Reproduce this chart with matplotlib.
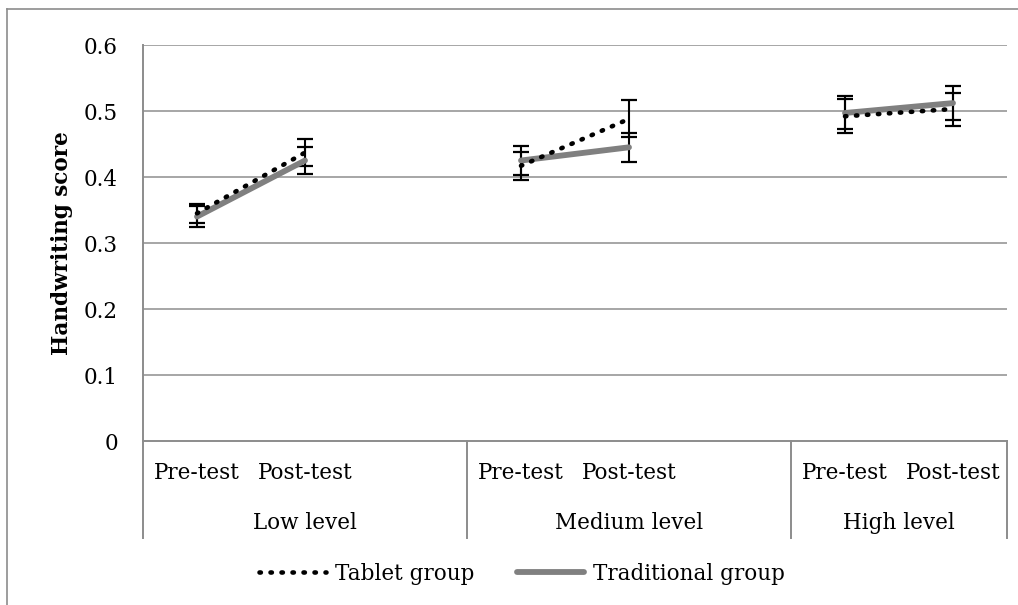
import matplotlib
matplotlib.use("Agg")
import matplotlib.pyplot as plt
import matplotlib.transforms as mtransforms
import numpy as np

# Data
levels = ["Low level", "Medium level", "High level"]
tests = ["Pre-test", "Post-test"]
# category slots: Pre, Post, (blank) for each level; last level has no blank
cat_labels = ["Pre-test", "Post-test", "", "Pre-test", "Post-test", "", "Pre-test", "Post-test"]
tablet = [0.345, 0.437, np.nan, 0.417, 0.488, np.nan, 0.492, 0.503]
tablet_err = [0.014, 0.021, np.nan, 0.021, 0.028, np.nan, 0.026, 0.025]
traditional = [0.340, 0.425, np.nan, 0.425, 0.445, np.nan, 0.497, 0.512]
traditional_err = [0.016, 0.020, np.nan, 0.022, 0.022, np.nan, 0.025, 0.026]
yticks = [0, 0.1, 0.2, 0.3, 0.4, 0.5, 0.6]
ytick_labels = ["0", "0.1", "0.2", "0.3", "0.4", "0.5", "0.6"]

plt.rcParams['font.family'] = ['DejaVu Serif']
FS = 15.5

fig = plt.figure(figsize=(10.18, 6.05), dpi=100)
ax = fig.add_axes([143/1018, 1-441/605, (1007-143)/1018, (441-45)/605])

x = np.arange(len(cat_labels))
grid_c = "#a6a6a6"
for yv in yticks[1:]:
    ax.axhline(yv, color=grid_c, lw=1.4, zorder=0)

ax.errorbar(x, traditional, yerr=traditional_err, fmt='none', ecolor='black',
            elinewidth=1.5, capsize=6, capthick=1.6, zorder=3)
ax.errorbar(x, tablet, yerr=tablet_err, fmt='none', ecolor='black',
            elinewidth=1.5, capsize=6, capthick=1.6, zorder=3)
ax.plot(x, traditional, color='#808080', lw=4.2, solid_capstyle='round',
        label='Traditional group', zorder=4)
ax.plot(x, tablet, color='black', lw=3.3, linestyle=(0, (0.3, 2.1)),
        dash_capstyle='round', label='Tablet group', zorder=5)

ax.set_xlim(-0.5, len(cat_labels) - 0.5)
ax.set_ylim(0, 0.6)
ax.set_yticks(yticks)
ax.set_yticklabels(ytick_labels, fontsize=FS)
ax.tick_params(axis='y', length=0, pad=18)
ax.set_xticks([])
for s in ['top', 'right']:
    ax.spines[s].set_visible(False)
ax.spines['left'].set_color('#8c8c8c')
ax.spines['left'].set_linewidth(1.4)
ax.spines['bottom'].set_color('#8c8c8c')
ax.spines['bottom'].set_linewidth(1.4)

ax.set_ylabel("Handwriting score", fontsize=FS, fontweight='bold', labelpad=8)

trans = mtransforms.blended_transform_factory(ax.transData, ax.transAxes)
for i, lab in enumerate(cat_labels):
    if lab:
        ax.text(x[i], -0.081, lab, transform=trans, ha='center', va='center', fontsize=FS)
group_centers = [1.0, 4.0, 6.5]
for gc, lv in zip(group_centers, levels):
    ax.text(gc, -0.207, lv, transform=trans, ha='center', va='center', fontsize=FS)
for sx in [-0.5, 2.5, 5.5, 7.5]:
    ax.plot([sx, sx], [0, -0.245], transform=trans, color='#8c8c8c', lw=1.4, clip_on=False)

h, l = ax.get_legend_handles_labels()
leg = fig.legend([h[1], h[0]], [l[1], l[0]], loc='center', bbox_to_anchor=(522/1018, 1-574/605),
                 ncol=2, frameon=False, fontsize=FS, handlelength=3.1, columnspacing=2.0,
                 handletextpad=0.4)

# outer chart border (partially visible)
fig.add_artist(plt.Line2D([7/1018, 1], [1-9/605, 1-9/605], color='#8c8c8c', lw=1.2))
fig.add_artist(plt.Line2D([7/1018, 7/1018], [0, 1-9/605], color='#8c8c8c', lw=1.2))

fig.savefig("out.png", dpi=100)
